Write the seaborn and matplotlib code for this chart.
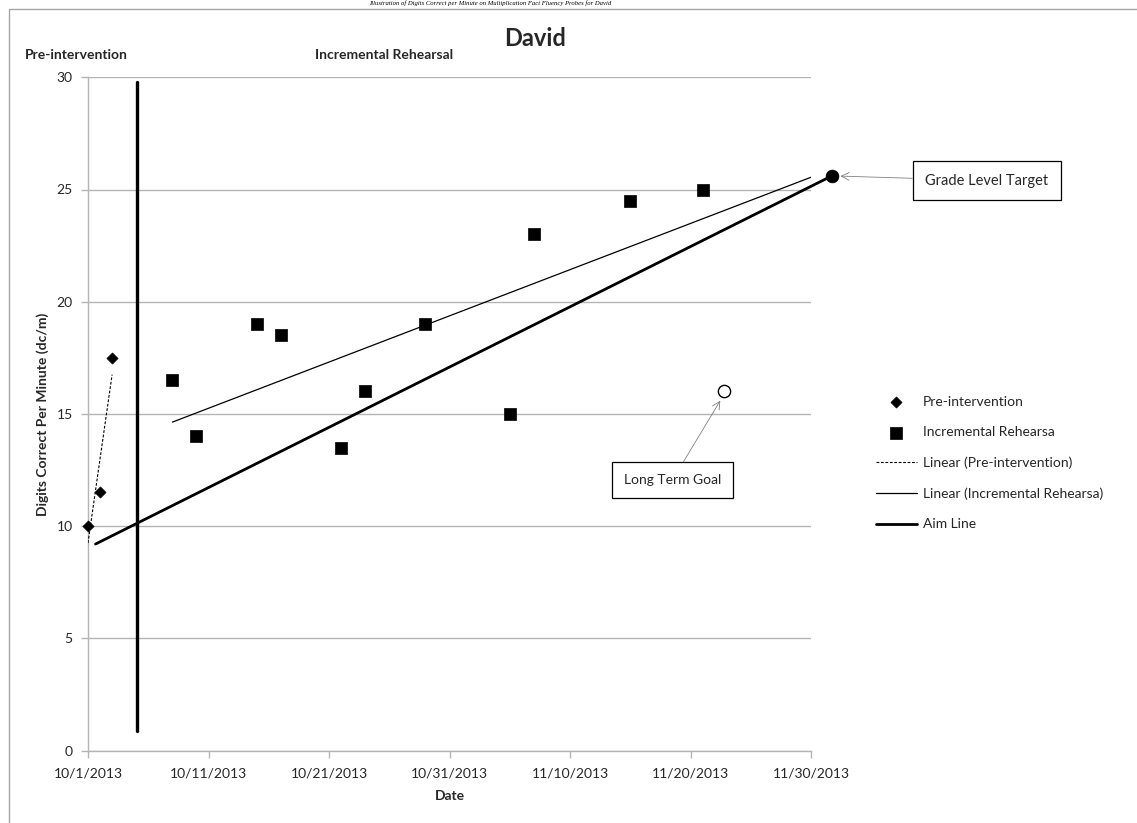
import numpy as np
import pandas as pd
import matplotlib
matplotlib.use("Agg")
import matplotlib.pyplot as plt
import matplotlib.dates as mdates
from matplotlib.patches import Rectangle
import seaborn as sns

# ---------------- data ----------------
PRE_DATES = ["2013-10-01", "2013-10-02", "2013-10-03"]
PRE_DCM = [10, 11.5, 17.5]

IR_DATES = ["2013-10-08", "2013-10-10", "2013-10-15", "2013-10-17", "2013-10-22",
            "2013-10-24", "2013-10-29", "2013-11-05", "2013-11-07", "2013-11-15",
            "2013-11-21"]
IR_DCM = [16.5, 14, 19, 18.5, 13.5, 16, 19, 15, 23, 24.5, 25]
IR_TREND_END = "2013-11-30"

AIM_DATES = ["2013-10-01 15:00", "2013-12-01 17:00"]
AIM_DCM = [9.2, 25.6]

PHASE_DATE = "2013-10-05 02:00"
PHASE_SPAN = [0.85, 29.8]

GOAL_DATE = "2013-11-22 19:00"
GOAL_DCM = 16.0

TARGET_DATE = "2013-12-01 17:00"
TARGET_DCM = 25.6

XTICK_DATES = ["2013-10-01", "2013-10-11", "2013-10-21", "2013-10-31",
               "2013-11-10", "2013-11-20", "2013-11-30"]
YTICKS = [0, 5, 10, 15, 20, 25, 30]

TITLE = "David"
CAPTION = "Illustration of Digits Correct per Minute on Multiplication Fact Fluency Probes for David"

# ---------------- style ----------------
sns.set_theme(style="white")
plt.rcParams["font.family"] = ["Lato", "DejaVu Sans"]
GRID = "#b4b4b4"
TXT = "#262626"

W, H = 1137, 823
fig = plt.figure(figsize=(W / 100, H / 100), dpi=100)
ax = fig.add_axes([88 / W, 1 - 750.5 / H, (811 - 88) / W, (750.5 - 77.3) / H])

pre = pd.DataFrame({"date": pd.to_datetime(PRE_DATES), "dcm": PRE_DCM})
ir = pd.DataFrame({"date": pd.to_datetime(IR_DATES), "dcm": IR_DCM})
t0 = pd.Timestamp(XTICK_DATES[0])

def days(s):
    return (pd.to_datetime(s) - t0) / pd.Timedelta(days=1)

# trend lines (least squares, like Excel "Linear" trendline)
pre_k, pre_b = np.polyfit(days(pre["date"]), pre["dcm"], 1)
pre_x = pd.to_datetime([pre["date"].min(), pre["date"].max()])
pre_trend = pd.DataFrame({"date": pre_x, "dcm": pre_k * days(pre_x) + pre_b})

ir_k, ir_b = np.polyfit(days(ir["date"]), ir["dcm"], 1)
ir_x = pd.to_datetime([ir["date"].min(), pd.Timestamp(IR_TREND_END)])
ir_trend = pd.DataFrame({"date": ir_x, "dcm": ir_k * days(ir_x) + ir_b})

aim = pd.DataFrame({"date": pd.to_datetime(AIM_DATES), "dcm": AIM_DCM})
phase = pd.DataFrame({"date": pd.to_datetime([PHASE_DATE, PHASE_DATE]), "dcm": PHASE_SPAN})

# lines
sns.lineplot(data=phase, x="date", y="dcm", estimator=None, sort=False, ax=ax,
             color="black", lw=2.4, label="_nolegend_", zorder=3)
sns.lineplot(data=pre_trend, x="date", y="dcm", estimator=None, sort=False, ax=ax,
             color="black", lw=0.8, linestyle=(0, (2.5, 1.5)),
             label="Linear (Pre-intervention)", zorder=3)
sns.lineplot(data=ir_trend, x="date", y="dcm", estimator=None, sort=False, ax=ax,
             color="black", lw=0.9, label="Linear (Incremental Rehearsa)", zorder=3)
sns.lineplot(data=aim, x="date", y="dcm", estimator=None, sort=False, ax=ax,
             color="black", lw=2.0, label="Aim Line", zorder=3)
ax.lines[-1].set_clip_on(False)

# points
sns.scatterplot(data=pre, x="date", y="dcm", marker="D", s=32, color="black",
                edgecolor="black", linewidth=0.5, label="Pre-intervention",
                clip_on=False, zorder=5, ax=ax)
sns.scatterplot(data=ir, x="date", y="dcm", marker="s", s=74, color="black",
                edgecolor="black", linewidth=0.5, label="Incremental Rehearsa",
                zorder=5, ax=ax)
sns.scatterplot(x=pd.to_datetime([TARGET_DATE]), y=[TARGET_DCM], marker="o", s=85,
                color="black", edgecolor="black", linewidth=0.5, label="_nolegend_",
                clip_on=False, zorder=6, ax=ax)
sns.scatterplot(x=pd.to_datetime([GOAL_DATE]), y=[GOAL_DCM], marker="o", s=78,
                color="white", edgecolor="black", linewidth=1.0, label="_nolegend_",
                clip_on=False, zorder=6, ax=ax)
if ax.get_legend() is not None:
    ax.get_legend().remove()

# axes
ax.set_xlim(pd.Timestamp(XTICK_DATES[0]), pd.Timestamp(XTICK_DATES[-1]))
ax.set_ylim(YTICKS[0], YTICKS[-1])
xt = pd.to_datetime(XTICK_DATES)
ax.set_xticks(xt)
ax.set_xticklabels([f"{d.month}/{d.day}/{d.year}" for d in xt])
ax.set_yticks(YTICKS)
ax.set_yticklabels([str(v) for v in YTICKS])
ax.yaxis.grid(True, color=GRID, lw=1.0)
ax.xaxis.grid(False)
ax.set_axisbelow(True)
for s in ("top", "right"):
    ax.spines[s].set_visible(False)
for s in ("left", "bottom"):
    ax.spines[s].set_color(GRID)
    ax.spines[s].set_linewidth(1.0)
ax.tick_params(axis="both", direction="out", length=5, width=1.0, color=GRID,
               labelsize=10, labelcolor=TXT)
ax.tick_params(axis="x", pad=7, bottom=True)
ax.tick_params(axis="y", pad=6, left=True)

ax.set_xlabel("Date", fontsize=10, fontweight="bold", color=TXT)
ax.set_ylabel("Digits Correct Per Minute (dc/m)", fontsize=10, fontweight="bold", color=TXT)
ax.xaxis.set_label_coords(0.5, -0.058)
ax.yaxis.set_label_coords(-0.054, 0.5)

# annotations
ax.annotate("Grade Level Target",
            xy=(mdates.date2num(pd.Timestamp(TARGET_DATE)) + 0.5, TARGET_DCM),
            xytext=(mdates.date2num(pd.Timestamp("2013-12-14 14:00")), 25.4),
            ha="center", va="center", fontsize=10.5, color=TXT, annotation_clip=False,
            bbox=dict(boxstyle="square,pad=0.85", fc="white", ec="black", lw=0.9),
            arrowprops=dict(arrowstyle="->", color="#808080", lw=0.6,
                            shrinkA=0, shrinkB=2, mutation_scale=14))
ax.annotate("Long Term Goal",
            xy=(mdates.date2num(pd.Timestamp(GOAL_DATE)) - 0.2, GOAL_DCM - 0.3),
            xytext=(mdates.date2num(pd.Timestamp("2013-11-18 12:00")), 12.05),
            ha="center", va="center", fontsize=10, color=TXT, annotation_clip=False,
            bbox=dict(boxstyle="square,pad=0.85", fc="white", ec="black", lw=0.9),
            arrowprops=dict(arrowstyle="->", color="#808080", lw=0.6,
                            shrinkA=0, shrinkB=2, mutation_scale=14))

# legend
handles, labels = ax.get_legend_handles_labels()
order = ["Pre-intervention", "Incremental Rehearsa", "Linear (Pre-intervention)",
         "Linear (Incremental Rehearsa)", "Aim Line"]
hmap = dict(zip(labels, handles))
leg = fig.legend([hmap[k] for k in order], order, loc="upper left",
                 bbox_to_anchor=(876 / W, 1 - 396 / H), frameon=False,
                 fontsize=10, labelspacing=1.32, handlelength=2.95,
                 handletextpad=0.45, borderpad=0, borderaxespad=0)
for t in leg.get_texts():
    t.set_color(TXT)

# titles / phase labels
fig.text(535 / W, 1 - 39 / H, TITLE, ha="center", va="center", fontsize=17,
         fontweight="bold", color=TXT)
fig.text(25 / W, 1 - 55 / H, "Pre-intervention", ha="left", va="center",
         fontsize=10, fontweight="bold", color=TXT)
fig.text(315 / W, 1 - 55 / H, "Incremental Rehearsal", ha="left", va="center",
         fontsize=10, fontweight="bold", color=TXT)

# chart frame and caption strip above it
fig.add_artist(Rectangle((9 / W, -0.2), 1.5, 1 - 8.5 / H + 0.2, transform=fig.transFigure,
                         fill=False, ec="#a6a6a6", lw=1.0))
fig.text(490 / W, 1 - 0.5 / H, CAPTION, ha="center", va="top", fontsize=4.8,
         style="italic", family=["Liberation Serif", "DejaVu Serif"], color="black")

fig.savefig("out.png", dpi=100)
